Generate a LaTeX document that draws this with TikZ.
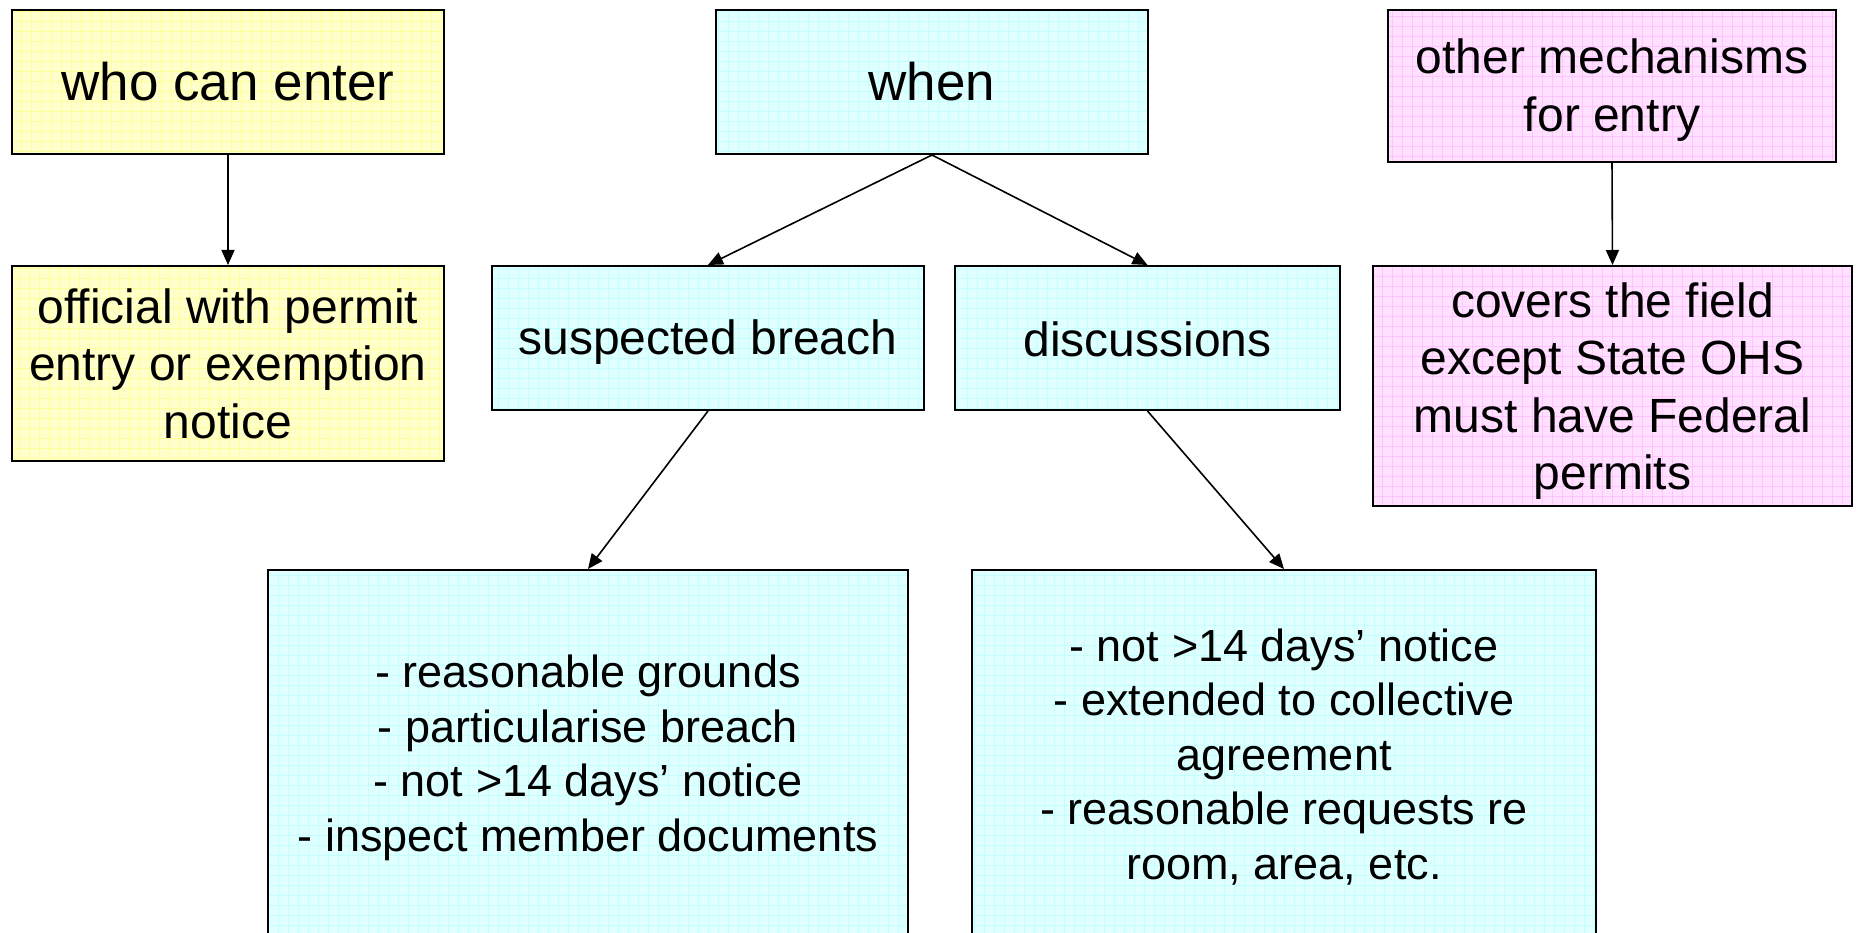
\documentclass[tikz,border=0pt]{standalone}
\usepackage{fontspec}
\setmainfont{Liberation Sans}
\usetikzlibrary{arrows.meta}
\definecolor{yelf}{HTML}{FFFFCC}
\definecolor{yelg}{HTML}{FFFF99}
\definecolor{cyaf}{HTML}{E0FFFF}
\definecolor{cyag}{HTML}{C4FFFF}
\definecolor{pinf}{HTML}{FFE0FF}
\definecolor{ping}{HTML}{FFC4FF}
\tikzset{
  gbox/.style={draw=black, line width=2pt, inner sep=0pt, align=center, text=black},
  gridded/.style 2 args={fill=#1, path picture={\draw[#2, line width=0.8pt, step=10pt] (path picture bounding box.south west) grid (path picture bounding box.north east);}},
  yelbox/.style={gbox, gridded={yelf}{yelg}},
  cyabox/.style={gbox, gridded={cyaf}{cyag}},
  pinbox/.style={gbox, gridded={pinf}{ping}},
  txt/.style={inner sep=0pt, align=center, text=black},
  bigfont/.style={font=\fontsize{53}{63}\selectfont},
  midfont/.style={font=\fontsize{48}{57.5}\selectfont},
  smallfont/.style={font=\fontsize{45}{54.5}\selectfont},
  conn/.style={line width=1.6pt, -{Triangle[width=13pt,length=15pt]}}
}
\begin{document}
\begin{tikzpicture}[x=1pt,y=-1pt]
\useasboundingbox (0,0) rectangle (1858,933);
\clip (0,0) rectangle (1858,933);
\fill[white] (0,0) rectangle (1858,933);
% boxes
\node[yelbox, bigfont, minimum width=432pt, minimum height=144pt] (who) at (228,82) {who can enter};
\node[yelbox, midfont, minimum width=432pt, minimum height=195pt] (off) at (228,363.5) {official with permit\\entry or exemption\\notice};
\node[cyabox, bigfont, minimum width=432pt, minimum height=144pt] (when) at (932,82) {when};
\node[pinbox, minimum width=448pt, minimum height=152pt] (other) at (1612,86) {};
\node[pinbox, minimum width=479pt, minimum height=240pt] (covers) at (1612.5,386) {};
\node[cyabox, minimum width=432pt, minimum height=144pt] (sb) at (708,338) {};
\node[cyabox, minimum width=385pt, minimum height=144pt] (disc) at (1147.5,338) {};
\node[cyabox, minimum width=640pt, minimum height=370pt] (bl) at (588,755) {};
\node[cyabox, minimum width=624pt, minimum height=370pt] (br) at (1284,755) {};
% texts
\node[txt, midfont] (othert) at (1612,90) {other mechanisms\\for entry};
\node[txt, midfont] (coverst) at (1612.5,391) {covers the field\\except State OHS\\must have Federal\\permits};
\node[txt, midfont] (sbt) at (708,342) {suspected breach};
\node[txt, midfont] (disct) at (1147.5,339) {discussions};
\node[txt, smallfont] (blt) at (588,758) {- reasonable grounds\\- particularise breach\\- not >14 days’ notice\\- inspect member documents};
\node[txt, smallfont] (brt) at (1284,757) {- not >14 days’ notice\\- extended to collective\\agreement\\- reasonable requests re\\room, area, etc.};
% connectors
\draw[conn] (who.south) -- (off.north);
\draw[conn] (other.south) -- (covers.north);
\draw[conn] (when.south) -- (sb.north);
\draw[conn] (when.south) -- (disc.north);
\draw[conn] (sb.south) -- (bl.north);
\draw[conn] (disc.south) -- (br.north);
\end{tikzpicture}
\end{document}
